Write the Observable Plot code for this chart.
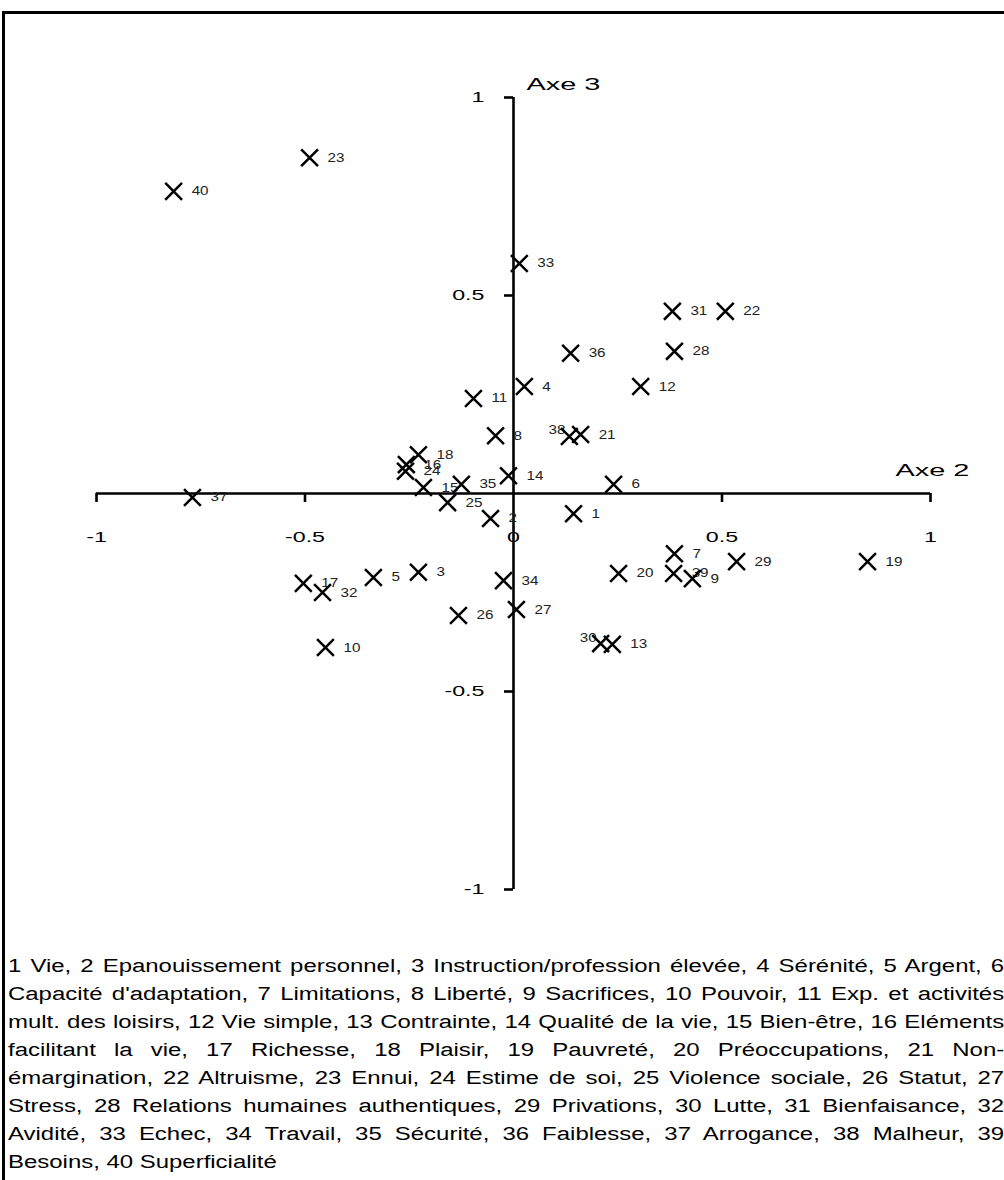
<!DOCTYPE html>
<html><head><meta charset="utf-8">
<script src="https://cdn.jsdelivr.net/npm/d3@7"></script>
<script src="https://cdn.jsdelivr.net/npm/@observablehq/plot@0.6"></script>
<style>
html,body{margin:0;padding:0;background:#fff;width:1004px;height:1180px;overflow:hidden;}
#wrap{position:relative;width:1004px;height:1180px;overflow:hidden;}
#chart{position:absolute;left:0;top:0;}
#frame{position:absolute;left:2px;top:11px;width:1100px;height:1300px;border:3px solid #000;z-index:2;pointer-events:none;}
#legend{position:absolute;left:8px;top:952px;width:749px;font-family:"Liberation Sans",Arial,sans-serif;font-size:18px;line-height:28px;text-align:justify;transform:scaleX(1.33);transform-origin:0 0;color:#000;}
</style></head>
<body><div id="wrap"><div id="chart"></div><div id="frame"></div><div id="legend"></div></div>
<script>
// Points: identifiers and coordinates on Axe 2 (horizontal) and Axe 3 (vertical)
const ids  = [1,2,3,4,5,6,7,8,9,10,11,12,13,14,15,16,17,18,19,20,21,22,23,24,25,26,27,28,29,30,31,32,33,34,35,36,37,38,39,40];
const axe2 = [0.144,-0.055,-0.228,0.026,-0.336,0.240,0.386,-0.043,0.429,-0.451,-0.096,0.305,0.237,-0.012,-0.216,-0.257,-0.504,-0.228,0.849,0.252,0.161,0.508,-0.489,-0.259,-0.158,-0.132,0.007,0.386,0.535,0.209,0.381,-0.458,0.014,-0.024,-0.125,0.137,-0.770,0.134,0.384,-0.815];
const axe3 = [-0.051,-0.063,-0.199,0.270,-0.212,0.023,-0.152,0.146,-0.215,-0.389,0.240,0.270,-0.381,0.045,0.015,0.073,-0.227,0.098,-0.172,-0.202,0.149,0.460,0.848,0.056,-0.023,-0.308,-0.293,0.359,-0.172,-0.379,0.460,-0.250,0.581,-0.220,0.023,0.354,-0.010,0.144,-0.202,0.763];
const names = ["Vie","Epanouissement personnel","Instruction/profession élevée","Sérénité","Argent","Capacité d'adaptation","Limitations","Liberté","Sacrifices","Pouvoir","Exp. et activités mult. des loisirs","Vie simple","Contrainte","Qualité de la vie","Bien-être","Eléments facilitant la vie","Richesse","Plaisir","Pauvreté","Préoccupations","Non-émargination","Altruisme","Ennui","Estime de soi","Violence sociale","Statut","Stress","Relations humaines authentiques","Privations","Lutte","Bienfaisance","Avidité","Echec","Travail","Sécurité","Faiblesse","Arrogance","Malheur","Besoins","Superficialité"];
const xTicks = [-1,-0.5,0,0.5,1];
const xTickLabels = ["-1","-0.5","0","0.5","1"];
const yTicks = [1,0.5,-0.5,-1];
const yTickLabels = ["1","0.5","-0.5","-1"];
const axisTitleX = "Axe 2";
const axisTitleY = "Axe 3";
const labelsAboveLeft = [30,38];

const points = ids.map((id,i)=>({id, x:axe2[i], y:axe3[i]}));
const normal = points.filter(d=>!labelsAboveLeft.includes(d.id));
const special = points.filter(d=>labelsAboveLeft.includes(d.id));
const F = "Liberation Sans, Arial, sans-serif";
const TICK_FS = 15, TITLE_FS = 17, PT_FS = 12.5;

const chart = Plot.plot({
  width:1004, height:950, marginLeft:96, marginRight:74, marginTop:97, marginBottom:61,
  x:{domain:[-1,1], axis:null}, y:{domain:[-1,1], axis:null},
  style:{background:"transparent"},
  marks:[
    Plot.ruleY([0], {x1:-1, x2:1, stroke:"#000", strokeWidth:2.6}),
    Plot.ruleX([0], {y1:-1, y2:1, stroke:"#000", strokeWidth:2.6}),
    Plot.ruleX(xTicks.filter(v=>v!==0), {x:d=>d, y1:0, y2:0, insetBottom:-9, stroke:"#000", strokeWidth:2.6}),
    Plot.ruleY(yTicks, {y:d=>d, x1:0, x2:0, insetLeft:-9, stroke:"#000", strokeWidth:2.6}),
    Plot.text(xTicks, {x:d=>d, y:0, text:(d,i)=>xTickLabels[i], dy:44, fontSize:TICK_FS, fontFamily:F, fill:"#000"}),
    Plot.text(yTicks, {x:0, y:d=>d, text:(d,i)=>yTickLabels[i], dx:-29, textAnchor:"end", fontSize:TICK_FS, fontFamily:F, fill:"#000"}),
    Plot.text([axisTitleY], {x:0, y:1, text:d=>d, dx:13, dy:-13, textAnchor:"start", fontSize:TITLE_FS, fontFamily:F, fill:"#000"}),
    Plot.text([axisTitleX], {x:1, y:0, text:d=>d, dx:2, dy:-23, textAnchor:"middle", fontSize:TITLE_FS, fontFamily:F, fill:"#000"}),
    Plot.text(normal, {x:"x", y:"y", text:"id", dx:18, textAnchor:"start", fontSize:PT_FS, fontFamily:F, fill:"#222"}),
    Plot.text(special, {x:"x", y:"y", text:"id", dx:-4, dy:-6, textAnchor:"end", fontSize:PT_FS, fontFamily:F, fill:"#222"}),
    Plot.dot(points, {x:"x", y:"y", symbol:"times", r:7.7, stroke:"#000", strokeWidth:2.5})
  ]
});
// horizontal stretch of the texts, as in the reference picture
const stretch = [[TICK_FS,1.55],[TITLE_FS,1.7],[PT_FS,1.22]];
for (const [fs,s] of stretch) {
  chart.querySelectorAll(`g[font-size="${fs}"] text`).forEach(t=>{
    t.setAttribute("transform", (t.getAttribute("transform")||"") + ` scale(${s},1)`);
  });
}
document.getElementById("chart").appendChild(chart);
document.getElementById("legend").textContent = names.map((n,i)=>`${ids[i]} ${n}`).join(", ");
</script>
</body></html>
